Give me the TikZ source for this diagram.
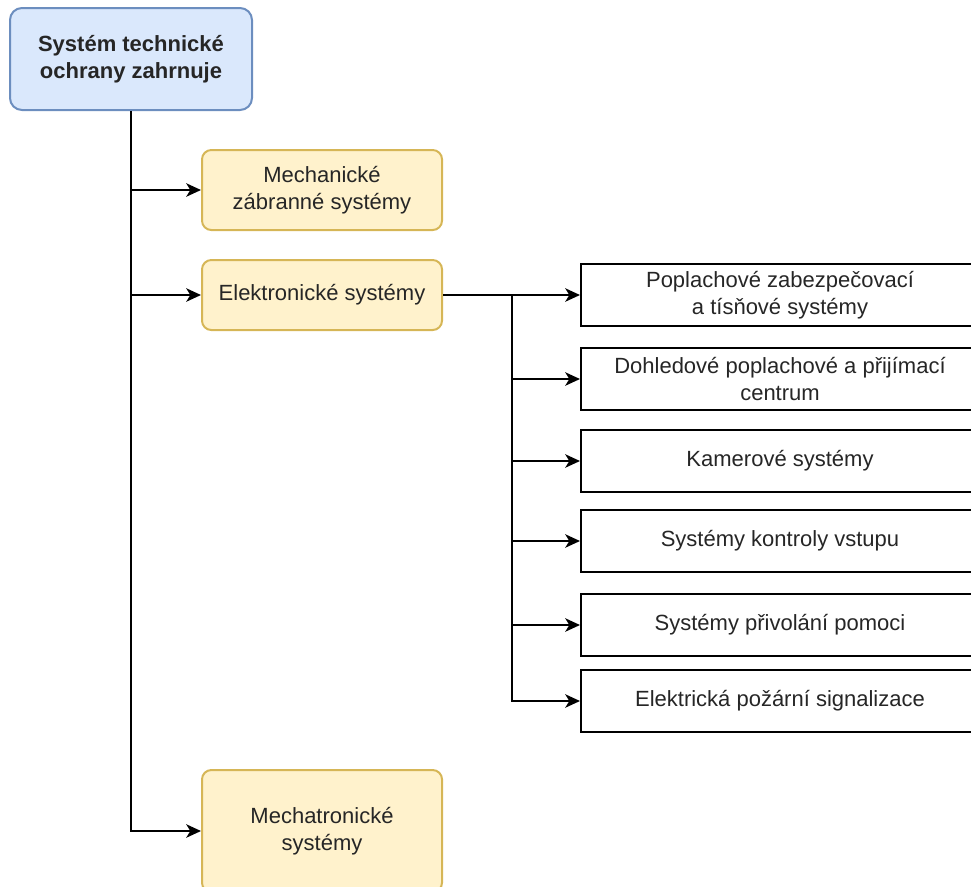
\documentclass[tikz,border=0pt]{standalone}
\usepackage{fontspec}
\setmainfont{Liberation Sans}
\usepackage{tikz}
\usetikzlibrary{arrows.meta}
\definecolor{topfill}{HTML}{DAE8FC}
\definecolor{topline}{HTML}{6C8EBF}
\definecolor{grpfill}{HTML}{FFF2CC}
\definecolor{grpline}{HTML}{D6B656}
\definecolor{txt}{HTML}{262626}
\tikzset{
  box/.style = {align=center, inner sep=0pt, text centered, text=txt,
    font=\fontsize{16.5}{20.6}\selectfont, line width=1.5pt},
  top_b/.style = {box, rectangle, rounded corners=9pt, draw=topline,
    fill=topfill, font=\fontsize{16.5}{20.6}\selectfont\bfseries,
    minimum width=181.5pt, minimum height=76.5pt},% korenovy uzel
  grp_b/.style = {box, rectangle, rounded corners=7pt, draw=grpline,
    fill=grpfill, minimum width=180pt},% skupina systemu
  sub_b/.style = {box, rectangle, draw=black, fill=white,
    minimum width=298.5pt, minimum height=46.5pt},% podsystem
  link/.style = {line width=1.8pt, -{Stealth[length=11pt,width=10pt,inset=3pt]}}
}

\begin{document}
\begin{tikzpicture}[x=0.75pt, y=-0.75pt]
	\useasboundingbox (0,0) rectangle (971,886);
	% hlavni vetev
	\node [top_b] (root) at (131,59) {Systém technické\\ochrany zahrnuje};
	\node [grp_b, minimum height=60pt] (mech) at (322,190) {Mechanické\\zábranné systémy};
	\node [grp_b, minimum height=52.5pt] (elek) at (322,295) {Elektronické systémy};
	\node [grp_b, minimum height=91.5pt] (mecha) at (322,831) {Mechatronické\\systémy};
	% elektronicke systemy
	\node [sub_b] (s1) at (780,295) {Poplachové zabezpečovací\\a tísňové systémy};
	\node [sub_b] (s2) at (780,379) {Dohledové poplachové a přijímací\\centrum};
	\node [sub_b] (s3) at (780,461) {Kamerové systémy};
	\node [sub_b] (s4) at (780,541) {Systémy kontroly vstupu};
	\node [sub_b] (s5) at (780,625) {Systémy přivolání pomoci};
	\node [sub_b] (s6) at (780,701) {Elektrická požární signalizace};
	\coordinate (elbranch) at (512,295);
	\foreach \n in {mech, elek, mecha}
		\draw [link] (root.south) |- (\n.west);
	\draw [link] (elek.east) -- (s1.west);
	\foreach \n in {s2, s3, s4, s5, s6}
		\draw [link] (elbranch) |- (\n.west);
\end{tikzpicture}
\end{document}
